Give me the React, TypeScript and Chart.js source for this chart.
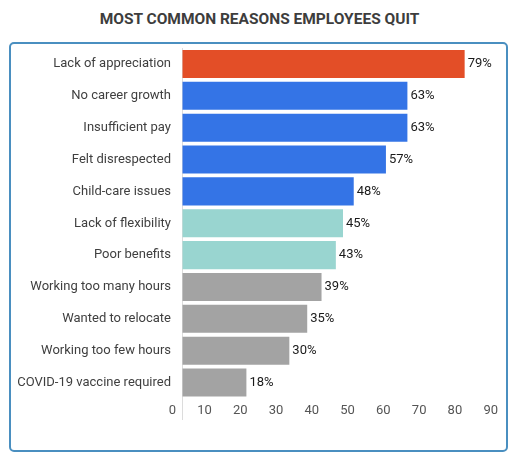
import React, { useEffect, useRef } from "react";
import { Chart, registerables } from "chart.js";

Chart.register(...registerables);

// Reasons, top to bottom
const reasons = [
  "Lack of appreciation",
  "No career growth",
  "Insufficient pay",
  "Felt disrespected",
  "Child-care issues",
  "Lack of flexibility",
  "Poor benefits",
  "Working too many hours",
  "Wanted to relocate",
  "Working too few hours",
  "COVID-19 vaccine required",
];
// share of employees citing each reason (%)
const percentages = [79, 63, 63, 57, 48, 45, 43, 39, 35, 30, 18];
const barColors = [
  "#e34e27",
  "#3474e6",
  "#3474e6",
  "#3474e6",
  "#3474e6",
  "#99d5d0",
  "#99d5d0",
  "#a3a3a3",
  "#a3a3a3",
  "#a3a3a3",
  "#a3a3a3",
];
const axisMin = 0;
const axisMax = 90;
const axisStep = 10;

const FONT = "Roboto, 'Noto Sans', sans-serif";

// writes "79%" etc. just past the end of each bar
const valueLabels = {
  id: "valueLabels",
  afterDatasetsDraw(chart: any) {
    const ctx = chart.ctx;
    const meta = chart.getDatasetMeta(0);
    ctx.save();
    ctx.font = `13px ${FONT}`;
    ctx.fillStyle = "#1a1a1a";
    ctx.textAlign = "left";
    ctx.textBaseline = "middle";
    meta.data.forEach((bar: any, i: number) => {
      ctx.fillText(`${percentages[i]}%`, bar.x + 3, bar.y);
    });
    ctx.restore();
  },
};

const ReasonsBarChart: React.FC = () => {
  const chartRef = useRef<HTMLCanvasElement>(null);
  const chartInstance = useRef<Chart | null>(null);

  useEffect(() => {
    if (chartRef.current) {
      const ctx = chartRef.current.getContext("2d");
      if (ctx) {
        if (chartInstance.current) {
          chartInstance.current.destroy();
        }
        chartInstance.current = new Chart(ctx, {
          type: "bar",
          data: {
            labels: reasons,
            datasets: [
              {
                data: percentages,
                backgroundColor: barColors,
                barPercentage: 0.88,
                categoryPercentage: 1,
              },
            ],
          },
          options: {
            indexAxis: "y",
            responsive: true,
            maintainAspectRatio: false,
            animation: false,
            layout: {
              padding: { top: 4, right: 2, bottom: 30, left: 0 },
            },
            plugins: {
              legend: { display: false },
              tooltip: { enabled: false },
            },
            scales: {
              x: {
                min: axisMin,
                max: axisMax,
                border: { display: false },
                grid: {
                  drawOnChartArea: false,
                  drawTicks: true,
                  tickLength: 21.5,
                  // only the zero line continues below the plot
                  color: (c: any) => (c.index === 0 ? "#dcdcdc" : "rgba(0,0,0,0)"),
                },
                ticks: {
                  stepSize: axisStep,
                  align: "end",
                  labelOffset: -6,
                  padding: -17,
                  color: "#555555",
                  font: { family: FONT, size: 13 },
                },
                afterFit: (scale: any) => {
                  scale.height = 21.5;
                  scale.paddingLeft = 0;
                  scale.paddingRight = 0;
                },
              },
              y: {
                border: { display: true, color: "#dcdcdc", width: 1 },
                grid: { display: false, drawTicks: false },
                ticks: {
                  padding: 11,
                  color: "#3f3f3f",
                  font: { family: FONT, size: 13 },
                },
                afterFit: (scale: any) => {
                  scale.width = 171;
                  scale.paddingTop = 0;
                  scale.paddingBottom = 0;
                },
              },
            },
          } as any,
          plugins: [valueLabels],
        });
      }
    }

    return () => {
      if (chartInstance.current) {
        chartInstance.current.destroy();
        chartInstance.current = null;
      }
    };
  }, []);

  return (
    <div>
      <div
        style={{
          height: 33,
          paddingTop: 1,
          lineHeight: "20px",
          textAlign: "center",
          fontFamily: FONT,
          fontSize: 15.5,
          fontWeight: 700,
          color: "#3d3d3d",
        }}
      >
        MOST COMMON REASONS EMPLOYEES QUIT
      </div>
      <div
        style={{
          marginLeft: 1,
          width: 495,
          height: 406,
          border: "2px solid #4a8fc0",
          borderRadius: 5,
          position: "relative",
        }}
      >
        <canvas ref={chartRef} />
      </div>
    </div>
  );
};

export default function App() {
  return <ReasonsBarChart />;
}
